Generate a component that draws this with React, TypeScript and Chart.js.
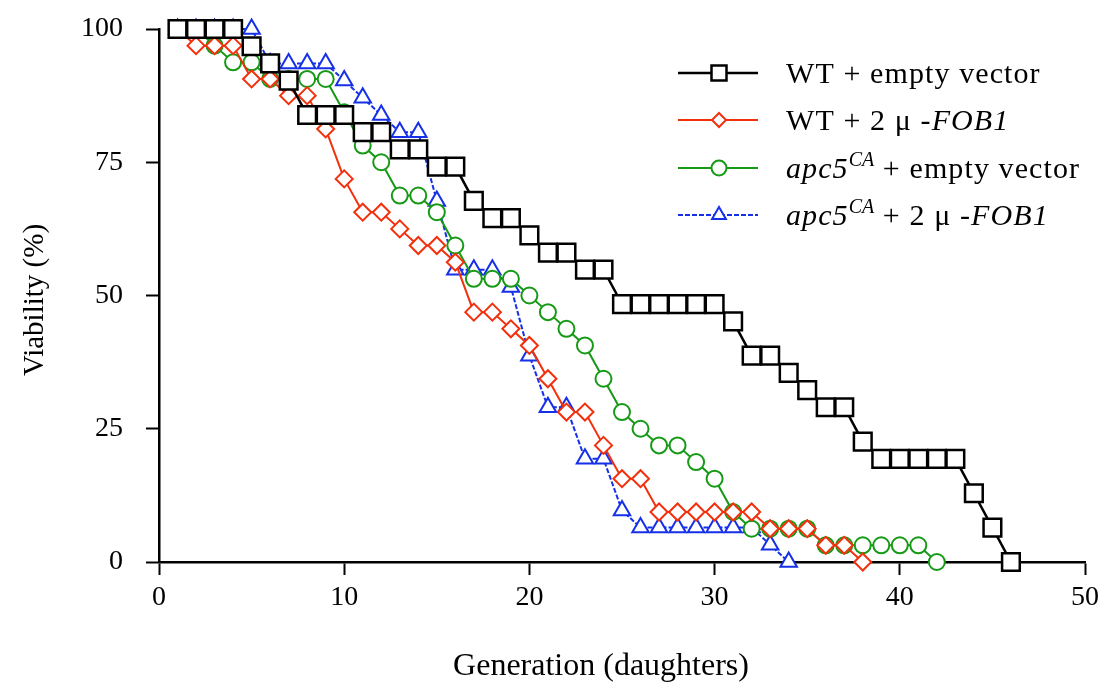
import React, { useEffect, useRef } from 'react';
import { Chart, registerables } from 'chart.js';

Chart.register(...registerables);

const FONT = '"Liberation Serif", "Times New Roman", serif';

// Generations (daughters)
const wtEmptyGen = [1,2,3,4,5,6,7,8,9,10,11,12,13,14,15,16,17,18,19,20,21,22,23,24,25,26,27,28,29,30,31,32,33,34,35,36,37,38,39,40,41,42,43,44,45,46];
const wtEmptyViab = [100,100,100,100,96.77,93.55,90.32,83.87,83.87,83.87,80.65,80.65,77.42,77.42,74.19,74.19,67.74,64.52,64.52,61.29,58.06,58.06,54.84,54.84,48.39,48.39,48.39,48.39,48.39,48.39,45.16,38.71,38.71,35.48,32.26,29.03,29.03,22.58,19.35,19.35,19.35,19.35,19.35,12.9,6.45,0];

const wtFobGen = [1,2,3,4,5,6,7,8,9,10,11,12,13,14,15,16,17,18,19,20,21,22,23,24,25,26,27,28,29,30,31,32,33,34,35,36,37,38];
const wtFobViab = [100,96.88,96.88,96.88,90.63,90.63,87.5,87.5,81.25,71.88,65.63,65.63,62.5,59.38,59.38,56.25,46.88,46.88,43.75,40.63,34.38,28.13,28.13,21.88,15.63,15.63,9.38,9.38,9.38,9.38,9.38,9.38,6.25,6.25,6.25,3.13,3.13,0];

const apcEmptyGen = [1,2,3,4,5,6,7,8,9,10,11,12,13,14,15,16,17,18,19,20,21,22,23,24,25,26,27,28,29,30,31,32,33,34,35,36,37,38,39,40,41,42];
const apcEmptyViab = [100,100,96.88,93.75,93.75,90.63,90.63,90.63,90.63,84.38,78.13,75,68.75,68.75,65.63,59.38,53.13,53.13,53.13,50,46.88,43.75,40.63,34.38,28.13,25,21.88,21.88,18.75,15.63,9.38,6.25,6.25,6.25,6.25,3.13,3.13,3.13,3.13,3.13,3.13,0];

const apcFobGen = [1,2,3,4,5,6,7,8,9,10,11,12,13,14,15,16,17,18,19,20,21,22,23,24,25,26,27,28,29,30,31,32,33,34];
const apcFobViab = [100,100,100,100,100,93.55,93.55,93.55,93.55,90.32,87.1,83.87,80.65,80.65,67.74,54.84,54.84,54.84,51.61,38.71,29.03,29.03,19.35,19.35,9.68,6.45,6.45,6.45,6.45,6.45,6.45,6.45,3.23,0];

const xTicks = [0, 10, 20, 30, 40, 50];
const yTicks = [0, 25, 50, 75, 100];

const X_TITLE = 'Generation (daughters)';
const Y_TITLE = 'Viability (%)';

const seriesLabels = [
  'WT + empty vector',
  'WT + 2 μ -FOB1',
  'apc5CA + empty vector',
  'apc5CA + 2 μ -FOB1',
];

const BLACK = '#000000';
const RED = '#f2300c';
const GREEN = '#169a16';
const BLUE = '#1530e8';

type Part = { text: string; italic?: boolean; sup?: boolean };

const legendRows: { color: string; shape: string; dash: number[]; parts: Part[] }[] = [
  { color: BLACK, shape: 'square', dash: [], parts: [{ text: 'WT + empty vector' }] },
  { color: RED, shape: 'diamond', dash: [], parts: [{ text: 'WT + 2 μ -' }, { text: 'FOB1', italic: true }] },
  { color: GREEN, shape: 'circle', dash: [], parts: [{ text: 'apc5', italic: true }, { text: 'CA', italic: true, sup: true }, { text: ' + empty vector' }] },
  { color: BLUE, shape: 'triangle', dash: [5, 2], parts: [{ text: 'apc5', italic: true }, { text: 'CA', italic: true, sup: true }, { text: ' + 2 μ -' }, { text: 'FOB1', italic: true }] },
];

function toPoints(xs: number[], ys: number[]) {
  return xs.map((x, i) => ({ x, y: ys[i] }));
}

function drawMarker(ctx: CanvasRenderingContext2D, shape: string, x: number, y: number, color: string) {
  ctx.save();
  ctx.setLineDash([]);
  ctx.fillStyle = '#ffffff';
  ctx.strokeStyle = color;
  ctx.beginPath();
  if (shape === 'square') {
    ctx.lineWidth = 2.5;
    ctx.rect(x - 7.5, y - 7.5, 15, 15);
  } else if (shape === 'diamond') {
    ctx.lineWidth = 2;
    const r = 7;
    ctx.moveTo(x, y - r);
    ctx.lineTo(x + r, y);
    ctx.lineTo(x, y + r);
    ctx.lineTo(x - r, y);
    ctx.closePath();
  } else if (shape === 'circle') {
    ctx.lineWidth = 2;
    ctx.arc(x, y, 7.5, 0, Math.PI * 2);
  } else {
    ctx.lineWidth = 2;
    const r = 8;
    ctx.moveTo(x, y - r);
    ctx.lineTo(x + r * 0.866, y + r / 2);
    ctx.lineTo(x - r * 0.866, y + r / 2);
    ctx.closePath();
  }
  ctx.fill();
  ctx.stroke();
  ctx.restore();
}

const decorPlugin = {
  id: 'decor',
  afterDraw(chart: any) {
    const ctx: CanvasRenderingContext2D = chart.ctx;
    ctx.save();
    ctx.fillStyle = '#000';
    ctx.textBaseline = 'alphabetic';
    // axis titles
    ctx.textAlign = 'center';
    ctx.font = `32px ${FONT}`;
    ctx.fillText(X_TITLE, 601, 675);
    ctx.save();
    ctx.translate(43, 300);
    ctx.rotate(-Math.PI / 2);
    ctx.font = `29px ${FONT}`;
    ctx.fillText(Y_TITLE, 0, 0);
    ctx.restore();

    // legend
    const rowY = [73, 120, 168, 215];
    ctx.textAlign = 'left';
    legendRows.forEach((row, i) => {
      const y = rowY[i];
      ctx.save();
      ctx.strokeStyle = row.color;
      ctx.lineWidth = row.color === BLACK ? 2.5 : 2;
      ctx.setLineDash(row.dash);
      ctx.beginPath();
      ctx.moveTo(678, y);
      ctx.lineTo(758, y);
      ctx.stroke();
      ctx.restore();
      drawMarker(ctx, row.shape, 719, y, row.color);

      let cx = 786;
      row.parts.forEach((p) => {
        const size = p.sup ? 20 : 30;
        ctx.font = `${p.italic ? 'italic ' : ''}${size}px ${FONT}`;
        (ctx as any).letterSpacing = p.sup ? '0px' : '1.1px';
        ctx.fillStyle = '#000';
        ctx.fillText(p.text, cx, y + 10 + (p.sup ? -12 : 0));
        cx += ctx.measureText(p.text).width;
      });
      (ctx as any).letterSpacing = '0px';
    });
    ctx.restore();
  },
};

export default function App() {
  const canvasRef = useRef<HTMLCanvasElement | null>(null);

  useEffect(() => {
    if (!canvasRef.current) return;
    const common = { showLine: true, clip: false as any, tension: 0 };
    const chart = new Chart(canvasRef.current, {
      type: 'scatter',
      data: {
        datasets: [
          {
            ...common,
            label: seriesLabels[0],
            data: toPoints(wtEmptyGen, wtEmptyViab),
            borderColor: BLACK,
            borderWidth: 2.5,
            pointStyle: 'rect',
            pointRadius: 12.5,
            pointBorderWidth: 2.5,
            pointBorderColor: BLACK,
            pointBackgroundColor: '#ffffff',
          },
          {
            ...common,
            label: seriesLabels[1],
            data: toPoints(wtFobGen, wtFobViab),
            borderColor: RED,
            borderWidth: 2,
            pointStyle: 'rectRot',
            pointRadius: 8.5,
            pointBorderWidth: 2,
            pointBorderColor: RED,
            pointBackgroundColor: '#ffffff',
          },
          {
            ...common,
            label: seriesLabels[2],
            data: toPoints(apcEmptyGen, apcEmptyViab),
            borderColor: GREEN,
            borderWidth: 2,
            pointStyle: 'circle',
            pointRadius: 8,
            pointBorderWidth: 2,
            pointBorderColor: GREEN,
            pointBackgroundColor: '#ffffff',
          },
          {
            ...common,
            label: seriesLabels[3],
            data: toPoints(apcFobGen, apcFobViab),
            borderColor: BLUE,
            borderWidth: 2,
            borderDash: [5, 2],
            pointStyle: 'triangle',
            pointRadius: 9.5,
            pointBorderWidth: 2,
            pointBorderColor: BLUE,
            pointBackgroundColor: '#ffffff',
          },
        ],
      },
      options: {
        responsive: false,
        animation: false,
        devicePixelRatio: 1,
        layout: { autoPadding: false, padding: { left: 0, right: 29, top: 29, bottom: 0 } },
        plugins: {
          legend: { display: false },
          tooltip: { enabled: false },
          title: { display: false },
        },
        scales: {
          x: {
            type: 'linear',
            min: 0,
            max: 50,
            afterFit: (scale: any) => {
              scale.height = 120;
              scale.paddingLeft = 0;
              scale.paddingRight = 0;
            },
            afterBuildTicks: (scale: any) => { scale.ticks = xTicks.map((v) => ({ value: v })); },
            ticks: {
              color: '#000',
              font: { family: FONT, size: 28 },
              padding: 6,
              maxRotation: 0,
              autoSkip: false,
            },
            grid: {
              drawOnChartArea: false,
              drawTicks: true,
              tickLength: 13,
              tickWidth: 2,
              tickColor: '#000',
            },
            border: { display: true, color: '#000', width: 2.5 },
            title: { display: false },
          },
          y: {
            type: 'linear',
            min: 0,
            max: 100,
            afterFit: (scale: any) => {
              scale.width = 159;
              scale.paddingTop = 0;
              scale.paddingBottom = 0;
            },
            afterBuildTicks: (scale: any) => { scale.ticks = yTicks.map((v) => ({ value: v })); },
            ticks: {
              color: '#000',
              font: { family: FONT, size: 28 },
              padding: 23,
              autoSkip: false,
            },
            grid: {
              drawOnChartArea: false,
              drawTicks: true,
              tickLength: 13,
              tickWidth: 2,
              tickColor: '#000',
            },
            border: { display: true, color: '#000', width: 2.5 },
            title: { display: false },
          },
        },
      },
      plugins: [decorPlugin],
    });
    return () => chart.destroy();
  }, []);

  return (
    <div style={{ position: 'absolute', left: 0, top: 0, width: 1114, height: 682, background: '#fff' }}>
      <canvas ref={canvasRef} width={1114} height={682} style={{ display: 'block' }} />
    </div>
  );
}
